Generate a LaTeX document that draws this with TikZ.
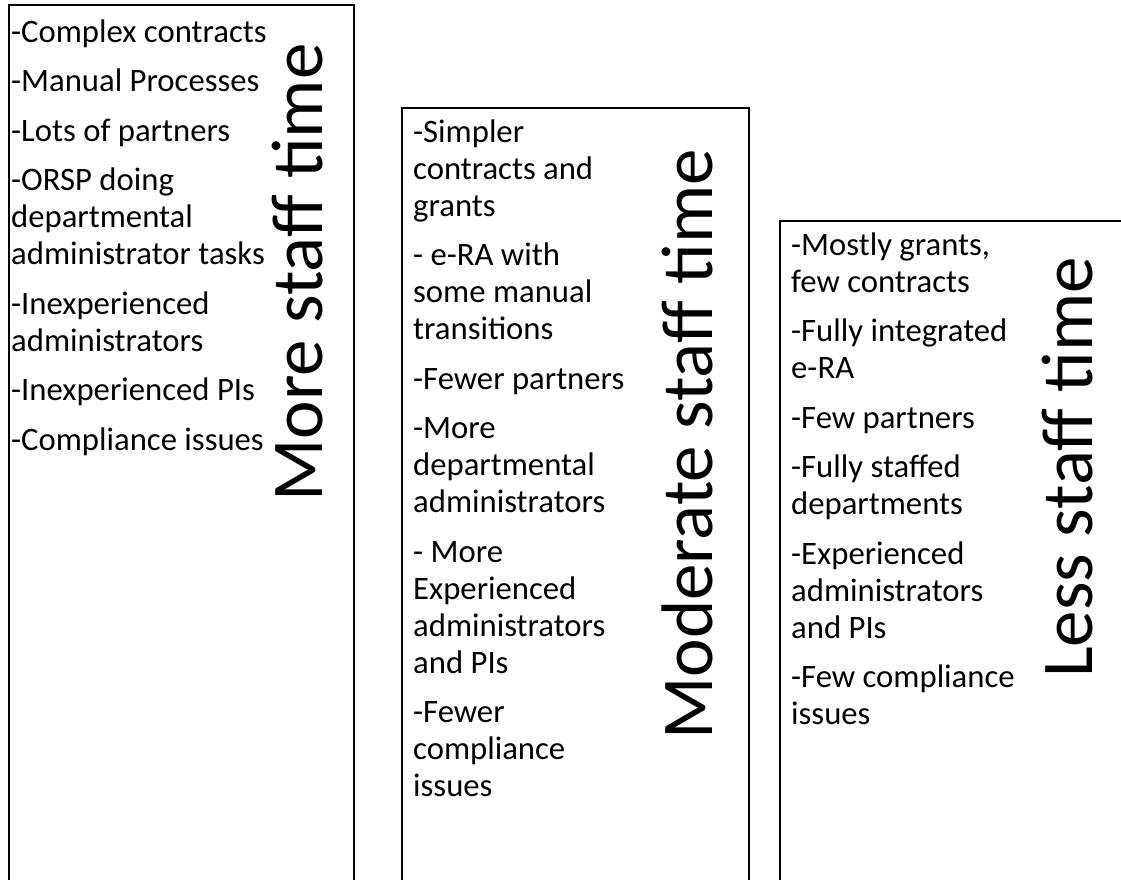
\documentclass[tikz,border=0pt]{standalone}
\usepackage{fontspec}
\setmainfont{Carlito}
\begin{document}
\begin{tikzpicture}[x=1pt,y=-1pt,
  panel/.style={draw=black, line width=2pt},
  itemtext/.style={anchor=base west, inner sep=0pt, font=\fontsize{32.7}{37}\selectfont},
  heading/.style={anchor=base west, inner sep=0pt, rotate=90, font=\fontsize{73}{80}\selectfont}]
\useasboundingbox (0,0) rectangle (1121,879);
\clip (0,0) rectangle (1121,879);
\fill[white] (0,0) rectangle (1121,879);
% panels
\draw[panel] (9,5) rectangle (354,900);
\draw[panel] (402,108) rectangle (749,900);
\draw[panel] (780,221) rectangle (1140,900);
% lists
\node[itemtext] (list1) at (11,42) {\begin{tabular}[t]{@{}l@{}}
-Complex contracts\\[12.5pt]
-Manual Processes\\[12.5pt]
-Lots of partners\\[12.5pt]
-ORSP doing\\
departmental\\
administrator tasks\\[12.5pt]
-Inexperienced\\
administrators\\[12.5pt]
-Inexperienced PIs\\[12.5pt]
-Compliance issues
\end{tabular}};
\node[itemtext] (list2) at (413,142) {\begin{tabular}[t]{@{}l@{}}
-Simpler\\
contracts and\\
grants\\[12.5pt]
- e-RA with\\
some manual\\
transitions\\[12.5pt]
-Fewer partners\\[12.5pt]
-More\\
departmental\\
administrators\\[12.5pt]
- More\\
Experienced\\
administrators\\
and PIs\\[12.5pt]
-Fewer\\
compliance\\
issues
\end{tabular}};
\node[itemtext] (list3) at (791,255) {\begin{tabular}[t]{@{}l@{}}
-Mostly grants,\\
few contracts\\[12.5pt]
-Fully integrated\\
e-RA\\[12.5pt]
-Few partners\\[12.5pt]
-Fully staffed\\
departments\\[12.5pt]
-Experienced\\
administrators\\
and PIs\\[12.5pt]
-Few compliance\\
issues
\end{tabular}};
% headings
\node[heading] (head1) at (322,502) {More staff time};
\node[heading] (head2) at (712,740) {Moderate staff time};
\node[heading] (head3) at (1092,678) {Less staff time};
\end{tikzpicture}
\end{document}
